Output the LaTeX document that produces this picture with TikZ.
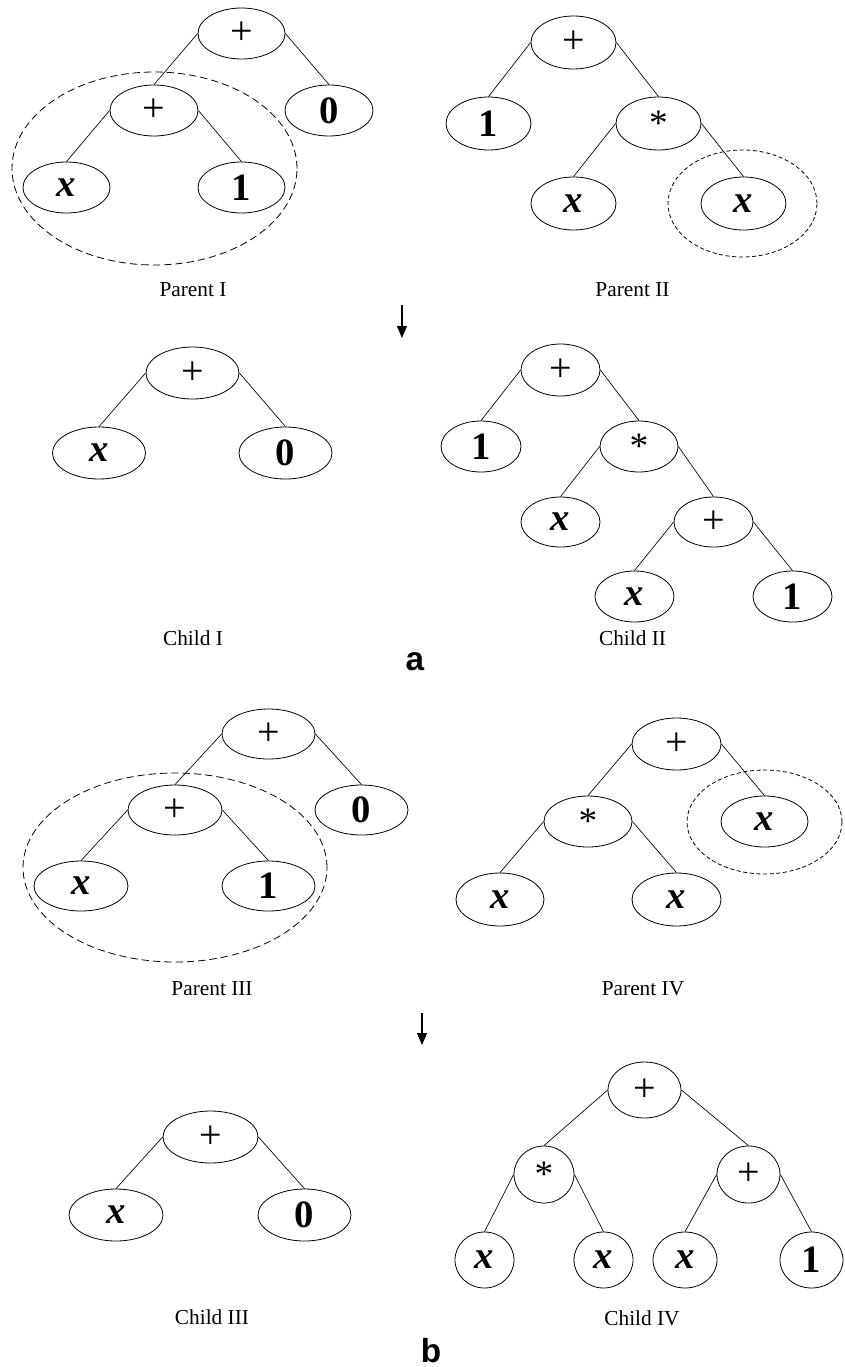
\documentclass[tikz,border=0pt]{standalone}
\usepackage{fontspec}
\setmainfont{Liberation Serif}
\newfontfamily\lblfont{Liberation Sans}
\usetikzlibrary{shapes.geometric,arrows.meta}
\tikzset{
  el/.style={ellipse, draw, line width=0.6pt, inner sep=0pt},
  sz/.style 2 args={minimum width=#1*1.5pt, minimum height=#2*1.5pt},
  bigdash/.style={ellipse, draw, line width=0.6pt, inner sep=0pt, dash pattern=on 5.5pt off 3pt},
  smalldash/.style={ellipse, draw, line width=0.6pt, inner sep=0pt, dash pattern=on 3pt off 2pt},
  tx/.style={font=\fontsize{29}{31}\selectfont},
  captxt/.style={font=\fontsize{16}{18}\selectfont},
  sublbl/.style={font=\lblfont\bfseries\fontsize{25}{27}\selectfont, inner sep=0pt},
  conn/.style={line width=0.5pt},
  arr/.style={line width=0.9pt, -{Triangle[width=7.5pt,length=9pt]}}
}
\newcommand{\vx}{\textbf{\textit{x}}}
\newcommand{\vo}{\textbf{1}}
\newcommand{\vz}{\textbf{0}}
\newcommand{\vp}{{\fontsize{30}{32}\selectfont +}}
\newcommand{\vm}{{\fontsize{28}{30}\selectfont\raisebox{-0.26em}{*}}}
\begin{document}
\begin{tikzpicture}[x=0.75pt,y=-0.75pt]
\useasboundingbox (0,0) rectangle (845,1367);
% ---------- Parent I
\node[bigdash, sz={142.5}{96.5}] (p1d) at (154.5,168.5) {};
\node[el, tx, sz={43.5}{25.5}] (p1r) at (241.5,33.5) {\vp};
\node[el, tx, sz={44}{25.5}] (p1p) at (154,110.5) {\vp};
\node[el, tx, sz={44}{25.5}] (p1z) at (329,110.5) {\vz};
\node[el, tx, sz={43.5}{25.5}] (p1x) at (66.5,187.5) {\vx};
\node[el, tx, sz={43.5}{25.5}] (p1o) at (241.5,187.5) {\vo};
\draw[conn] (p1r.west) -- (p1p.north);
\draw[conn] (p1r.east) -- (p1z.north);
\draw[conn] (p1p.west) -- (p1x.north);
\draw[conn] (p1p.east) -- (p1o.north);
\node[captxt] (l1) at (193,290) {Parent I};
% ---------- Parent II
\node[smalldash, sz={74.5}{53.5}] (p2d) at (742.5,203.5) {};
\node[el, tx, sz={42.5}{26.5}] (p2r) at (573.5,42.5) {\vp};
\node[el, tx, sz={42.5}{26.5}] (p2o) at (488.5,123.5) {\vo};
\node[el, tx, sz={42.5}{26.5}] (p2m) at (658.5,123.5) {\vm};
\node[el, tx, sz={42.5}{26.5}] (p2x) at (573.5,203.5) {\vx};
\node[el, tx, sz={42.5}{26.5}] (p2y) at (743.5,203.5) {\vx};
\draw[conn] (p2r.west) -- (p2o.north);
\draw[conn] (p2r.east) -- (p2m.north);
\draw[conn] (p2m.west) -- (p2x.north);
\draw[conn] (p2m.east) -- (p2y.north);
\node[captxt] (l2) at (632.5,290) {Parent II};
% ---------- arrow a
\coordinate (a1) at (402,305);
\coordinate (a2) at (402,338);
\draw[arr] (a1) -- (a2);
% ---------- Child I
\node[el, tx, sz={46.5}{26}] (c1r) at (192.5,373) {\vp};
\node[el, tx, sz={46.5}{26}] (c1x) at (99,453) {\vx};
\node[el, tx, sz={46.5}{26}] (c1z) at (285.5,453) {\vz};
\draw[conn] (c1r.west) -- (c1x.north);
\draw[conn] (c1r.east) -- (c1z.north);
\node[captxt] (l3) at (193,638) {Child I};
% ---------- Child II
\node[el, tx, sz={39.5}{26}] (c2r) at (560.5,370) {\vp};
\node[el, tx, sz={40}{25.5}] (c2o) at (481,446.5) {\vo};
\node[el, tx, sz={39}{25.5}] (c2m) at (639,446.5) {\vm};
\node[el, tx, sz={39.5}{25}] (c2x) at (560.5,522) {\vx};
\node[el, tx, sz={39.5}{25}] (c2p) at (713.5,522) {\vp};
\node[el, tx, sz={39.5}{25.5}] (c2y) at (634.5,596.5) {\vx};
\node[el, tx, sz={39.5}{25.5}] (c2q) at (792.5,596.5) {\vo};
\draw[conn] (c2r.west) -- (c2o.north);
\draw[conn] (c2r.east) -- (c2m.north);
\draw[conn] (c2m.west) -- (c2x.north);
\draw[conn] (c2m.east) -- (c2p.north);
\draw[conn] (c2p.west) -- (c2y.north);
\draw[conn] (c2p.east) -- (c2q.north);
\node[captxt] (l4) at (632.5,638) {Child II};
\node[sublbl, anchor=base] (sa) at (415,670) {a};
% ---------- Parent III
\node[bigdash, sz={152}{94.5}] (p3d) at (175,867.5) {};
\node[el, tx, sz={46.5}{25}] (p3r) at (268.5,734) {\vp};
\node[el, tx, sz={47}{25}] (p3p) at (175,810) {\vp};
\node[el, tx, sz={46.5}{25}] (p3z) at (361.5,810) {\vz};
\node[el, tx, sz={47}{25}] (p3x) at (81,886) {\vx};
\node[el, tx, sz={46.5}{25}] (p3o) at (268.5,886) {\vo};
\draw[conn] (p3r.west) -- (p3p.north);
\draw[conn] (p3r.east) -- (p3z.north);
\draw[conn] (p3p.west) -- (p3x.north);
\draw[conn] (p3p.east) -- (p3o.north);
\node[captxt] (l5) at (212,989) {Parent III};
% ---------- Parent IV
\node[smalldash, sz={77.5}{52}] (p4d) at (764.5,822) {};
\node[el, tx, sz={44.5}{26}] (p4r) at (676.5,744) {\vp};
\node[el, tx, sz={44}{25.5}] (p4m) at (588,821.5) {\vm};
\node[el, tx, sz={43.5}{25.5}] (p4y) at (764.5,821.5) {\vx};
\node[el, tx, sz={44}{26.5}] (p4a) at (500,899.5) {\vx};
\node[el, tx, sz={44.5}{26.5}] (p4b) at (676.5,899.5) {\vx};
\draw[conn] (p4r.west) -- (p4m.north);
\draw[conn] (p4r.east) -- (p4y.north);
\draw[conn] (p4m.west) -- (p4a.north);
\draw[conn] (p4m.east) -- (p4b.north);
\node[captxt] (l6) at (643,989) {Parent IV};
% ---------- arrow b
\coordinate (b1) at (422,1013);
\coordinate (b2) at (422,1045);
\draw[arr] (b1) -- (b2);
% ---------- Child III
\node[el, tx, sz={47.5}{26}] (c3r) at (210.5,1137) {\vp};
\node[el, tx, sz={47}{26}] (c3x) at (116,1215) {\vx};
\node[el, tx, sz={46.5}{26}] (c3z) at (304.5,1215) {\vz};
\draw[conn] (c3r.west) -- (c3x.north);
\draw[conn] (c3r.east) -- (c3z.north);
\node[captxt] (l7) at (212,1317) {Child III};
% ---------- Child IV
\node[el, tx, sz={36.5}{28}] (c4r) at (644.5,1090) {\vp};
\node[el, tx, sz={30}{28.5}] (c4m) at (544,1174.5) {\vm};
\node[el, tx, sz={31.5}{28.5}] (c4p) at (748.5,1174.5) {\vp};
\node[el, tx, sz={29.5}{28}] (c4a) at (484.5,1260) {\vx};
\node[el, tx, sz={29.5}{28}] (c4b) at (603.5,1260) {\vx};
\node[el, tx, sz={32}{28}] (c4c) at (685,1260) {\vx};
\node[el, tx, sz={31.5}{28}] (c4d) at (811.5,1260) {\vo};
\draw[conn] (c4r.west) -- (c4m.north);
\draw[conn] (c4r.east) -- (c4p.north);
\draw[conn] (c4m.west) -- (c4a.north);
\draw[conn] (c4m.east) -- (c4b.north);
\draw[conn] (c4p.west) -- (c4c.north);
\draw[conn] (c4p.east) -- (c4d.north);
\node[captxt] (l8) at (642,1318) {Child IV};
\node[sublbl, anchor=base] (sb) at (431,1362) {b};
\end{tikzpicture}
\end{document}
